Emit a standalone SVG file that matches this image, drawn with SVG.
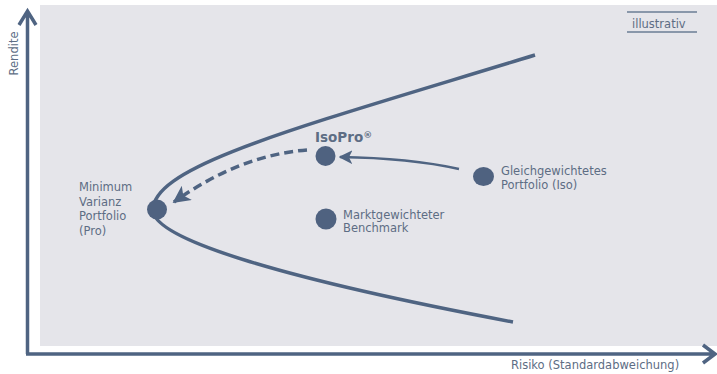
<svg xmlns="http://www.w3.org/2000/svg" width="717" height="374" viewBox="0 0 717 374">
<defs>
<style>
.t{font-family:"DejaVu Sans","Verdana",sans-serif;font-size:11.5px;fill:#5d6d84}
.ax{stroke:#4f6482;stroke-width:3.5;fill:none}
.cv{stroke:#4f6482;stroke-width:3.5;fill:none;stroke-linecap:butt}
.dot{fill:#4f6280}
</style>
<marker id="ah" viewBox="0 0 10 10" refX="9" refY="5" markerWidth="5.5" markerHeight="5.5" markerUnits="strokeWidth" orient="auto">
<path d="M0,0 L10,5 L0,10 L2.5,5 z" fill="#4f6482"/>
</marker>
<marker id="ah2" viewBox="0 0 10 10" refX="9" refY="5" markerWidth="5" markerHeight="5" markerUnits="strokeWidth" orient="auto">
<path d="M0,0 L10,5 L0,10 L2.5,5 z" fill="#4f6482"/>
</marker>
</defs>
<rect x="40" y="5" width="677" height="341" fill="#e5e5ea"/>
<g id="axes">
<path class="ax" d="M27.5,354 V12 M19,25 L27.5,11 L36,25"/>
<path class="ax" d="M26,354 H714 M703,345 L715,354 L703,363"/>
<text class="t" transform="translate(17.5,53.5) rotate(-90)" text-anchor="middle">Rendite</text>
<text class="t" x="511" y="369">Risiko (Standardabweichung)</text>
</g>
<g id="legend">
<line x1="627" y1="12" x2="697" y2="12" stroke="#6a7c94" stroke-width="1.5"/>
<line x1="627" y1="32" x2="697" y2="32" stroke="#6a7c94" stroke-width="1.5"/>
<text class="t" x="632" y="28" fill="#555e6a">illustrativ</text>
</g>
<g id="frontier">
<path class="cv" d="M153,210 C153,165 300,127 535,55"/>
<path class="cv" d="M153,210 C153,240 290,280 513,322"/>
</g>
<g id="connectors">
<path d="M459,169 Q410,158 340,157" stroke="#4f6482" stroke-width="2.5" fill="none" marker-end="url(#ah)"/>
<path d="M307,150 Q240,155 174,202" stroke="#4f6482" stroke-width="3.5" fill="none" stroke-dasharray="9,5" marker-end="url(#ah2)"/>
</g>
<g id="minvar">
<circle class="dot" cx="157" cy="209.5" r="10"/>
<text class="t"><tspan x="79" y="191">Minimum</tspan><tspan x="79" y="205.5">Varianz</tspan><tspan x="79" y="220">Portfolio</tspan><tspan x="79" y="234.5">(Pro)</tspan></text>
</g>
<g id="isopro">
<circle class="dot" cx="325.5" cy="156" r="10"/>
<text x="315" y="142" style="font-family:'DejaVu Sans',Verdana,sans-serif;font-size:13.5px;font-weight:bold;fill:#5d6d84">IsoPro<tspan font-size="9" dy="-4">®</tspan></text>
</g>
<g id="gleich">
<ellipse class="dot" cx="483.5" cy="176.5" rx="10.5" ry="9.5"/>
<text class="t"><tspan x="501" y="174.5">Gleichgewichtetes</tspan><tspan x="501" y="188.5">Portfolio (Iso)</tspan></text>
</g>
<g id="markt">
<circle class="dot" cx="326" cy="219" r="10.5"/>
<text class="t"><tspan x="343" y="218.5">Marktgewichteter</tspan><tspan x="343" y="232">Benchmark</tspan></text>
</g>
</svg>
